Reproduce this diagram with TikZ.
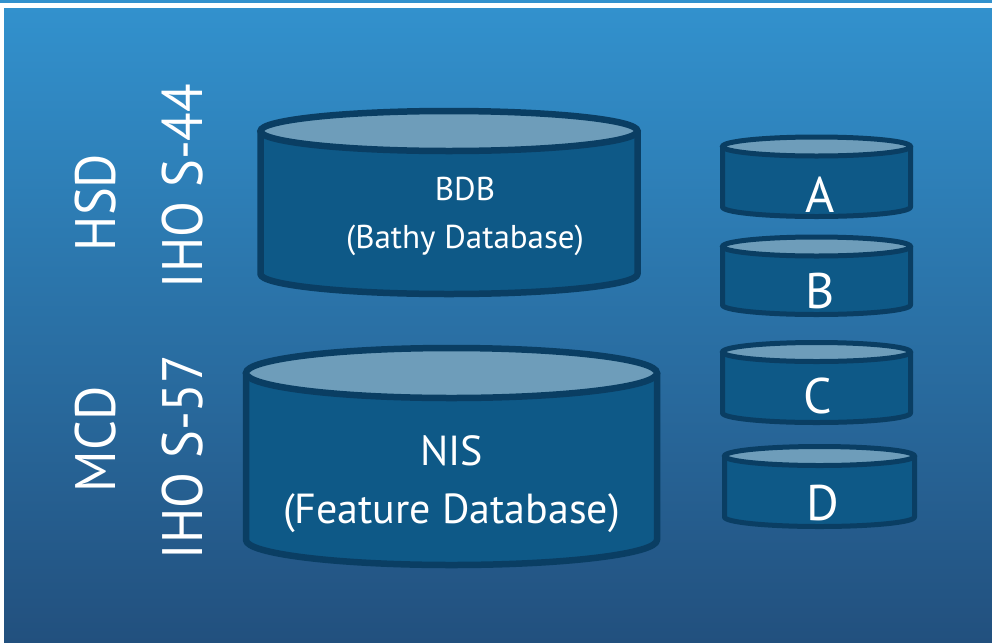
\documentclass[tikz,border=0pt]{standalone}
\usepackage{fontspec}
\setmainfont{PT Sans}
\definecolor{bgtop}{RGB}{50,145,205}
\definecolor{bgbot}{RGB}{34,80,126}
\definecolor{cylbody}{RGB}{14,89,135}
\definecolor{cyltop}{RGB}{110,157,186}
\definecolor{cylline}{RGB}{10,62,99}
\newcommand\dbcyl[7]{% name, cx, rx, ytop, ybot, ry, lw
  \pgfmathsetmacro\cxl{#2-#3}\pgfmathsetmacro\cxr{#2+#3}
  \fill[cylbody] (\cxl,-#4) -- (\cxl,-#5) arc[start angle=180,end angle=360,x radius=#3pt,y radius=#6pt] -- (\cxr,-#4) -- cycle;
  \draw[line width=#7pt,cylline,line join=round] (\cxl,-#4) -- (\cxl,-#5) arc[start angle=180,end angle=360,x radius=#3pt,y radius=#6pt] -- (\cxr,-#4);
  \draw[line width=#7pt,cylline,fill=cyltop] (#2,-#4) ellipse[x radius=#3pt,y radius=#6pt];
  \coordinate (#1) at (#2,-#4);
}
\tikzset{
  lbl/.style={text=white, inner sep=0pt, anchor=base},
  biglbl/.style={lbl, font=\fontsize{57}{60}\selectfont, rotate=90},
  letterlbl/.style={lbl, font=\fontsize{50}{55}\selectfont},
}
\begin{document}
\begin{tikzpicture}[x=1pt,y=1pt]
\useasboundingbox (0,0) rectangle (992,-643);
\fill[white] (0,0) rectangle (992,-643);
\fill[bgtop] (0,0) rectangle (992,-2.6);
\shade[top color=bgtop, bottom color=bgbot] (4,-8) rectangle (992,-642);
% cylinders
\dbcyl{bdb}{449}{188.5}{131}{274}{20}{6.5}
\dbcyl{nis}{451.5}{205.5}{373}{540}{25}{6.5}
\dbcyl{cA}{816.5}{94}{146.5}{207}{9.5}{5}
\dbcyl{cB}{816.5}{94}{246.5}{305}{9.5}{5}
\dbcyl{cC}{816.5}{94}{352}{413}{9.5}{5}
\dbcyl{cD}{819.5}{95}{456}{517}{9.5}{5}
% labels in cylinders
\node[lbl, font=\fontsize{33}{38}\selectfont] (bdbt1) at (465,-200) {BDB};
\node[lbl, font=\fontsize{33}{38}\selectfont] (bdbt2) at (465,-248) {(Bathy Database)};
\node[lbl, font=\fontsize{42}{48}\selectfont] (nist1) at (451.5,-465) {NIS};
\node[lbl, font=\fontsize{42}{48}\selectfont] (nist2) at (451.5,-523) {(Feature Database)};
\node[letterlbl] (tA) at (820,-212) {A};
\node[letterlbl] (tB) at (820,-308) {B};
\node[letterlbl] (tC) at (818,-413) {C};
\node[letterlbl] (tD) at (823,-520) {D};
% side labels
\node[biglbl] (hsd) at (115,-202.5) {\scalebox{0.92}[1]{HSD}};
\node[biglbl] (s44) at (202,-186) {\scalebox{0.92}[1]{IHO S-44}};
\node[biglbl] (mcd) at (115,-439.5) {\scalebox{0.92}[1]{MCD}};
\node[biglbl] (s57) at (202,-457) {\scalebox{0.92}[1]{IHO S-57}};
\end{tikzpicture}
\end{document}
